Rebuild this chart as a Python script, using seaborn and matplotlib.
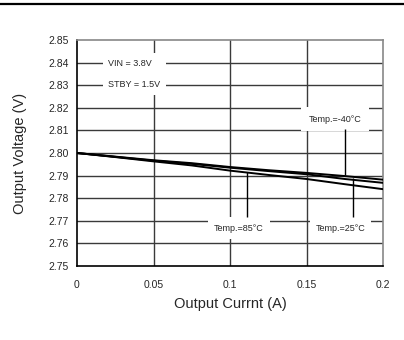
import numpy as np
import pandas as pd
import seaborn as sns
import matplotlib
matplotlib.use("Agg")
import matplotlib.pyplot as plt
from matplotlib.lines import Line2D

# data
current = [0, 0.025, 0.05, 0.075, 0.1, 0.125, 0.15, 0.175, 0.2]
v_85 = [2.8000, 2.7982, 2.7963, 2.7945, 2.7922, 2.7903, 2.7885, 2.7862, 2.7840]
v_25 = [2.8000, 2.7983, 2.7966, 2.7952, 2.7935, 2.7920, 2.7906, 2.7885, 2.7868]
v_m40 = [2.8000, 2.7984, 2.7968, 2.7955, 2.7938, 2.7924, 2.7912, 2.7898, 2.7882]
temps = ["85", "25", "-40"]
x_ticks = [0, 0.05, 0.1, 0.15, 0.2]
x_ticklabels = ["0", "0.05", "0.1", "0.15", "0.2"]
y_ticks = [2.75, 2.76, 2.77, 2.78, 2.79, 2.80, 2.81, 2.82, 2.83, 2.84, 2.85]

df = pd.DataFrame({
    "I": current * 3,
    "V": v_85 + v_25 + v_m40,
    "T": [t for t in temps for _ in current],
})

sns.set_style("white")
plt.rcParams['font.family'] = ['Liberation Sans', 'DejaVu Sans']

fig = plt.figure(figsize=(4.04, 3.40), dpi=100)
ax = fig.add_axes([77/404, 1-266/340, (383-77)/404, (266-40)/340])

# grid
for x in x_ticks[1:-1]:
    ax.axvline(x, color="#3a3a3a", lw=1.0, zorder=0)
for y in y_ticks[1:-1]:
    ax.axhline(y, color="#3a3a3a", lw=1.0, zorder=0)

sns.lineplot(data=df, x="I", y="V", units="T", estimator=None,
             color="black", lw=1.4, ax=ax, legend=False, zorder=3)

ax.set_xlim(0, 0.2)
ax.set_ylim(2.75, 2.85)
ax.set_xticks(x_ticks)
ax.set_xticklabels(x_ticklabels)
ax.set_yticks(y_ticks)
ax.set_yticklabels([f"{v:.2f}" for v in y_ticks])
ax.tick_params(axis="both", labelsize=7.5, length=4, width=1, color="black",
               direction="out")
ax.tick_params(axis="x", pad=6)
ax.tick_params(axis="y", pad=2)
for s in ["left", "bottom"]:
    ax.spines[s].set_color("black")
    ax.spines[s].set_linewidth(1.2)
for s in ["top", "right"]:
    ax.spines[s].set_color("#888888")
    ax.spines[s].set_linewidth(1.2)

ax.set_xlabel("Output Currnt (A)", fontsize=10.5, labelpad=5)
ax.set_ylabel("Output Voltage (V)", fontsize=10.5, labelpad=15)

# condition box
ax.text(0.0205, 2.8350, "VIN = 3.8V\n\nSTBY = 1.5V", fontsize=6.5, va="center",
        ha="left", linespacing=1.25, zorder=4,
        bbox=dict(facecolor="white", edgecolor="none", boxstyle="square,pad=0.6"))

lab = dict(fontsize=6.5, ha="center", va="center", zorder=4)
ax.text(0.1686, 2.8150, "Temp.=-40°C", **lab,
        bbox=dict(facecolor="white", edgecolor="none", boxstyle="square,pad=0.8"))
ax.text(0.1059, 2.7667, "Temp.=85°C", **lab,
        bbox=dict(facecolor="white", edgecolor="none", boxstyle="square,pad=0.7"))
ax.text(0.1722, 2.7664, "Temp.=25°C", **lab,
        bbox=dict(facecolor="white", edgecolor="none", boxstyle="square,pad=0.6"))

# leader lines from labels to curves
ax.vlines(0.175, 2.7903, 2.8105, color="black", lw=1.0, zorder=5)
ax.vlines(0.111, 2.7718, 2.7917, color="black", lw=1.0, zorder=5)
ax.vlines(0.1807, 2.7718, 2.7889, color="black", lw=1.0, zorder=5)

fig.add_artist(Line2D([0, 1], [1-4/340, 1-4/340], color="black", lw=1.6,
                      transform=fig.transFigure))

fig.savefig("out.png", dpi=100)
